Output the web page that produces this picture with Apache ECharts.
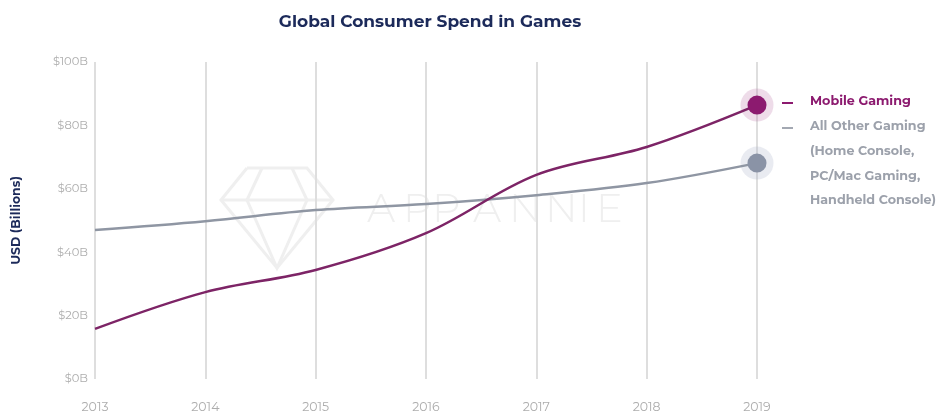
<!DOCTYPE html>
<html>
<head>
<meta charset="utf-8">
<script src="https://cdn.jsdelivr.net/npm/echarts@6/dist/echarts.min.js"></script>
<style>
  html, body { margin: 0; padding: 0; background: #ffffff; }
  #chart { width: 939px; height: 416px; }
</style>
</head>
<body>
<div id="chart"></div>
<script>
// Global consumer spend in games, USD billions
const years = ['2013', '2014', '2015', '2016', '2017', '2018', '2019'];
const mobileSpend = [15.8, 27.4, 34.4, 46, 64.4, 73.2, 86.4];
const otherSpend = [47, 49.8, 53.3, 55.2, 58, 61.8, 68.1];
const legendMobile = ['Mobile Gaming'];
const legendOther = ['All Other Gaming', '(Home Console,', 'PC/Mac Gaming,', 'Handheld Console)'];

const FONT = 'Montserrat, "Noto Sans", Lato, sans-serif';
const MOBILE = '#7d2466';
const MOBILE_DOT = '#8c1a6f';
const OTHER = '#8f96a3';
const OTHER_DOT = '#8a93a6';
const NAVY = '#1c2a5a';

function lastPointData(values) {
  return values.map((v, i) => i === values.length - 1 ? [years[i], v] : null).filter(Boolean);
}

function lineData(values, dotColor) {
  return values.map((v, i) => i === values.length - 1
    ? { value: v, symbol: 'circle', symbolSize: 19, itemStyle: { color: dotColor } }
    : { value: v, symbol: 'none' });
}

const graphics = [];
// watermark: diamond logo and spaced lettering
const wm = { stroke: '#efefef', lineWidth: 3, fill: null };
graphics.push({ type: 'polyline', z: 0, shape: { points: [[247, 168], [307, 168], [333, 200], [277, 268], [221, 200], [247, 168]] }, style: wm });
graphics.push({ type: 'polyline', z: 0, shape: { points: [[221, 200], [333, 200]] }, style: wm });
graphics.push({ type: 'polyline', z: 0, shape: { points: [[262, 168], [247, 200], [277, 268], [307, 200], [292, 168]] }, style: wm });
const wmLetters = ['A', 'P', 'P', ' ', 'A', 'N', 'N', 'I', 'E'];
const wmX = [367, 403, 432, 0, 461, 497, 533, 566, 584];
wmLetters.forEach((ch, i) => {
  if (ch === ' ') return;
  graphics.push({ type: 'text', z: 0, left: wmX[i] + (i >= 4 ? 12 : 0), top: 190, style: { text: ch, fill: '#efefef', font: '300 40px ' + FONT } });
});
// legend
const legendX = 782;
graphics.push({ type: 'rect', left: legendX, top: 102, shape: { width: 11, height: 2 }, style: { fill: MOBILE_DOT } });
graphics.push({ type: 'text', left: 810, top: 95, style: { text: legendMobile[0], fill: MOBILE_DOT, font: 'bold 12.7px ' + FONT } });
graphics.push({ type: 'rect', left: legendX, top: 127, shape: { width: 11, height: 2 }, style: { fill: '#a3a8b2' } });
legendOther.forEach((t, i) => {
  graphics.push({ type: 'text', left: 810, top: 120 + i * 24.7, style: { text: t, fill: '#9ca1ab', font: 'bold 12.7px ' + FONT } });
});

const chart = echarts.init(document.getElementById('chart'), null, { renderer: 'canvas' });
chart.setOption({
  backgroundColor: '#ffffff',
  animation: false,
  title: {
    text: 'Global Consumer Spend in Games',
    left: 425, top: 8, textAlign: 'center',
    textStyle: { color: NAVY, fontFamily: FONT, fontWeight: 'bold', fontSize: 17 }
  },
  grid: { left: 95, right: 182, top: 62, bottom: 37, containLabel: false },
  xAxis: {
    type: 'category', data: years, boundaryGap: false,
    axisLine: { show: false }, axisTick: { show: false },
    axisLabel: { color: '#adadad', fontFamily: FONT, fontSize: 12.5, margin: 22 },
    splitLine: { show: true, lineStyle: { color: '#dedede', width: 2 } }
  },
  yAxis: {
    type: 'value', min: 0, max: 100, interval: 20,
    name: 'USD (Billions)', nameLocation: 'middle', nameRotate: 90, nameGap: 72,
    nameTextStyle: { color: NAVY, fontFamily: FONT, fontWeight: 'bold', fontSize: 12.5 },
    axisLine: { show: false }, axisTick: { show: false },
    axisLabel: { color: '#adadad', fontFamily: FONT, fontSize: 11.5, margin: 7, formatter: v => '$' + v + 'B' },
    splitLine: { show: false }
  },
  graphic: graphics,
  series: [
    {
      name: 'Mobile halo', type: 'scatter', data: lastPointData(mobileSpend), symbolSize: 33,
      itemStyle: { color: 'rgba(190,120,170,0.33)' }, silent: true, z: 3
    },
    {
      name: 'Other halo', type: 'scatter', data: lastPointData(otherSpend), symbolSize: 33,
      itemStyle: { color: 'rgba(170,178,200,0.33)' }, silent: true, z: 3
    },
    {
      name: 'All Other Gaming', type: 'line', data: lineData(otherSpend, OTHER_DOT), smooth: 0.35,
      lineStyle: { color: OTHER, width: 2.5 }, z: 4
    },
    {
      name: 'Mobile Gaming', type: 'line', data: lineData(mobileSpend, MOBILE_DOT), smooth: 0.35,
      lineStyle: { color: MOBILE, width: 2.5 }, z: 5
    }
  ]
});
</script>
</body>
</html>
